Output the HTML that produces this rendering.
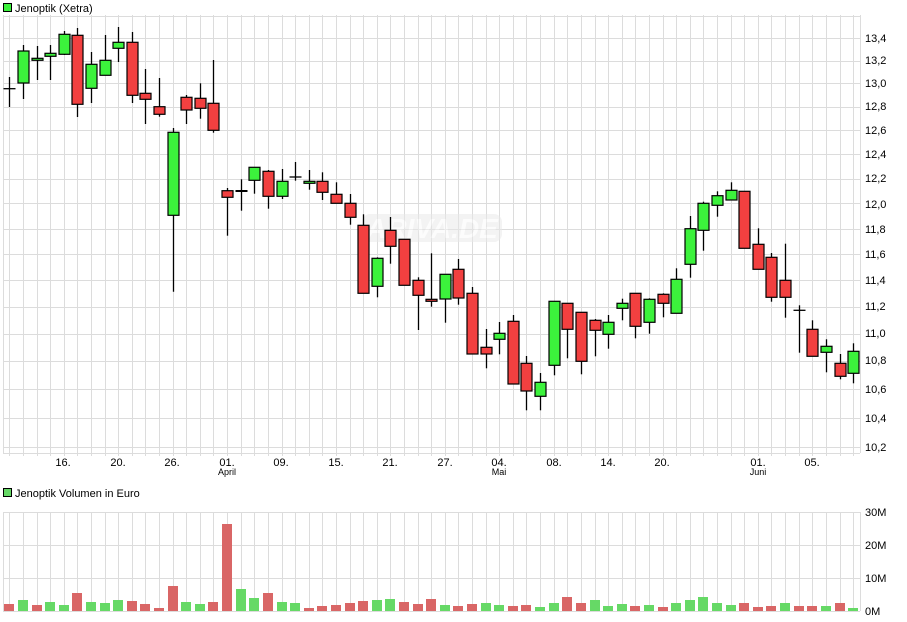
<!DOCTYPE html>
<html><head><meta charset="utf-8"><style>
body{margin:0;background:#fff;width:907px;height:622px;overflow:hidden}
svg{display:block;font-family:"Liberation Sans",sans-serif}
</style></head><body>
<svg id="s" width="907" height="622" xmlns="http://www.w3.org/2000/svg">
<g id="grid"></g>
<g opacity="0.5"><rect x="362" y="214" width="140" height="28" rx="8" fill="#e8e8e8"/>
<text x="432" y="238" font-size="28" font-weight="bold" font-style="italic" fill="#fafafa" text-anchor="middle">ARIVA.DE</text></g>
<g id="c"></g>
<g id="v"></g>
<rect x="3.5" y="3.5" width="8" height="8" fill="#3cf23c" stroke="#000"/>
<text x="15" y="12" font-size="11">Jenoptik (Xetra)</text>
<rect x="3.5" y="488.5" width="8" height="8" fill="#66d966" stroke="#000"/>
<text x="15" y="497" font-size="11">Jenoptik Volumen in Euro</text>
<g font-size="11" fill="#000">
<text x="865" y="42">13,4</text><text x="865" y="64">13,2</text><text x="865" y="87">13,0</text>
<text x="865" y="110">12,8</text><text x="865" y="134">12,6</text><text x="865" y="158">12,4</text>
<text x="865" y="182">12,2</text><text x="865" y="208">12,0</text><text x="865" y="233">11,8</text>
<text x="865" y="258">11,6</text><text x="865" y="284">11,4</text><text x="865" y="310">11,2</text>
<text x="865" y="337">11,0</text><text x="865" y="364">10,8</text><text x="865" y="393">10,6</text>
<text x="865" y="422">10,4</text><text x="865" y="451">10,2</text>
<text x="865" y="516">30M</text><text x="865" y="549">20M</text><text x="865" y="582">10M</text><text x="865" y="615">0M</text>
</g>
<g font-size="11" text-anchor="middle">
<text x="63" y="466">16.</text><text x="118" y="466">20.</text><text x="172" y="466">26.</text>
<text x="227" y="466">01.</text><text x="281" y="466">09.</text><text x="336" y="466">15.</text>
<text x="390" y="466">21.</text><text x="445" y="466">27.</text><text x="499" y="466">04.</text>
<text x="554" y="466">08.</text><text x="608" y="466">14.</text><text x="662" y="466">20.</text>
<text x="758" y="466">01.</text><text x="812" y="466">05.</text>
<text x="227" y="475" font-size="9">April</text><text x="499" y="475" font-size="9">Mai</text><text x="758" y="475" font-size="9">Juni</text>
</g>
</svg>
<script>
var NS="http://www.w3.org/2000/svg";
function el(p,t,a){var e=document.createElementNS(NS,t);for(var k in a)e.setAttribute(k,a[k]);p.appendChild(e);return e;}
var g=document.getElementById('grid'),c=document.getElementById('c'),v=document.getElementById('v');
var X=function(i){return 9.3+13.61*i;};
var gc="#dcdcdc";
for(var i=0;i<63;i++){var x=Math.round(X(i))+0.5;el(g,'line',{x1:x,y1:15,x2:x,y2:456,stroke:gc});el(g,'line',{x1:x,y1:512,x2:x,y2:611,stroke:gc});}
for(var p=10.2;p<13.65;p+=0.2){var y=Math.round(38+1499*(Math.log(13.4)-Math.log(p)))+0.5;el(g,'line',{x1:3,y1:y,x2:860,y2:y,stroke:gc});}
el(g,'line',{x1:3,y1:453.5,x2:860,y2:453.5,stroke:gc});
el(g,'line',{x1:3.5,y1:15,x2:3.5,y2:453,stroke:gc});
el(g,'line',{x1:860.5,y1:15,x2:860.5,y2:453,stroke:gc});
[512,545,578,611].forEach(function(y){el(g,'line',{x1:3,y1:y+0.5,x2:860,y2:y+0.5,stroke:gc});});
el(g,'line',{x1:3.5,y1:512,x2:3.5,y2:611,stroke:gc});el(g,'line',{x1:860.5,y1:512,x2:860.5,y2:611,stroke:gc});
// [type, bodyTop, bodyBottom, high, low] type g/r/d
var C=[['d',88.7,88.7,77,107],['g',51,83,45,99],['g',58.3,60.3,46,80],['g',53.3,56.3,45,80],['g',34.3,54.3,31,55],
['r',35.3,104.3,28,117],['g',64.3,88.3,52,103],['g',60.3,75.3,35,75],['g',42.3,48.3,27,62],['r',42.3,95.3,32,103],
['r',93.3,99.3,69,124],['r',106.7,114.3,78,116.7],['g',132.3,215.3,128,291.7],['r',97.3,110,95,124],['r',98.3,108.3,83.3,118.7],
['r',103.3,130.3,60,132.7],['r',190.7,197.3,188,235.7],['D',191,191,179.3,210.7],['g',167.3,180.3,167.3,193.7],['r',171.3,196.3,170,208.7],
['g',181.3,196.3,169,199],['d',177,177,162,180.7],['g',181.3,183.3,170,189.7],['r',181.3,192.3,172.3,200],['r',194.3,203.3,182.3,203.3],
['r',203.3,217.3,194,224.7],['r',225.3,293.3,214.3,293.3],['g',258.3,286.3,257.3,297.3],['r',230.3,246.3,217,263.7],['r',239.3,285.3,239.3,285.3],
['r',280.3,295.3,277.3,330],['r',299.3,301.3,253.3,306.7],['g',274.3,299,274.3,322.7],['r',269.3,298,259,304.7],['r',293.3,354,287,354],
['r',347.3,354,329,368.3],['g',333.3,339.3,322,354.3],['r',321.3,384,315,384],['r',363.3,391,356,410.3],['g',382.3,396.3,373,410.3],
['g',301.3,365.3,301.3,375.3],['r',303.3,329.3,303.3,358.3],['r',312.3,361.3,312.3,374.3],['r',320.3,330.3,319,356.3],['g',322.3,334.3,315,348.7],
['g',303.3,308.3,298.7,320.3],['r',293.3,326.3,293.3,338.3],['g',299.3,322.3,298.3,333.7],['r',294.3,303.3,293.3,317.3],['g',279.3,313.3,268.3,313.3],
['g',228.7,264.3,216,277.7],['g',203.3,230.3,201.7,250.7],['g',195.7,205.3,191.3,216.7],['g',190.3,200,182.3,200],['r',191.3,248.3,191.3,248.3],
['r',244.3,269.3,228.3,269.3],['r',257.3,297.3,253,301.7],['r',280.3,297.3,243.7,317.7],['d',310.3,310.3,305.3,352.7],['r',329.3,356.3,320.3,356.3],
['g',346.3,352.3,339.3,372.3],['r',363.3,376.3,354,379.3],['g',351.3,373.3,343.3,383.3]];
C.forEach(function(d,i){var x=Math.round(X(i))+0.5;
el(c,'line',{x1:x,y1:d[3],x2:x,y2:d[4],stroke:'#000','stroke-width':1.3});
if(d[0]=='d'||d[0]=='D'){el(c,'line',{x1:x-6,y1:d[1],x2:x+6,y2:d[1],stroke:'#000','stroke-width':d[0]=='D'?2:1.3});}
else{el(c,'rect',{x:x-5.5,y:d[1],width:11,height:Math.max(d[2]-d[1],1.5),fill:d[0]=='g'?'#3cf23c':'#f24040',stroke:'#000','stroke-width':1.2});}
});
var V=[[604,'r'],[600,'g'],[605,'r'],[602,'g'],[605,'g'],[593,'r'],[602,'g'],[603,'g'],[600,'g'],[601,'r'],[604,'r'],[608,'r'],[586,'r'],[602,'g'],[604,'g'],[602,'r'],[524,'r'],[589,'g'],[598,'g'],[593,'r'],[602,'g'],[603,'g'],[608,'r'],[606,'r'],[605,'r'],[603,'r'],[601,'r'],[600,'g'],[599,'g'],[602,'r'],[604,'r'],[599,'r'],
[605,'g'],[606,'r'],[604,'r'],[603,'g'],[605,'g'],[606,'r'],[605,'r'],[607,'g'],[603,'g'],[597,'r'],[603,'r'],[600,'g'],[606,'g'],[604,'g'],[606,'r'],[605,'g'],[607,'r'],[603,'g'],[600,'g'],[597,'g'],[603,'g'],[605,'g'],[603,'r'],[607,'r'],[606,'r'],[603,'g'],[606,'r'],[606,'r'],[606,'g'],[603,'r'],[608,'g']];
V.forEach(function(d,i){var x=Math.round(X(i));el(v,'rect',{x:x-5,y:d[0],width:10,height:611-d[0],fill:d[1]=='g'?'#66d966':'#d96666'});});
</script>
</body></html>
